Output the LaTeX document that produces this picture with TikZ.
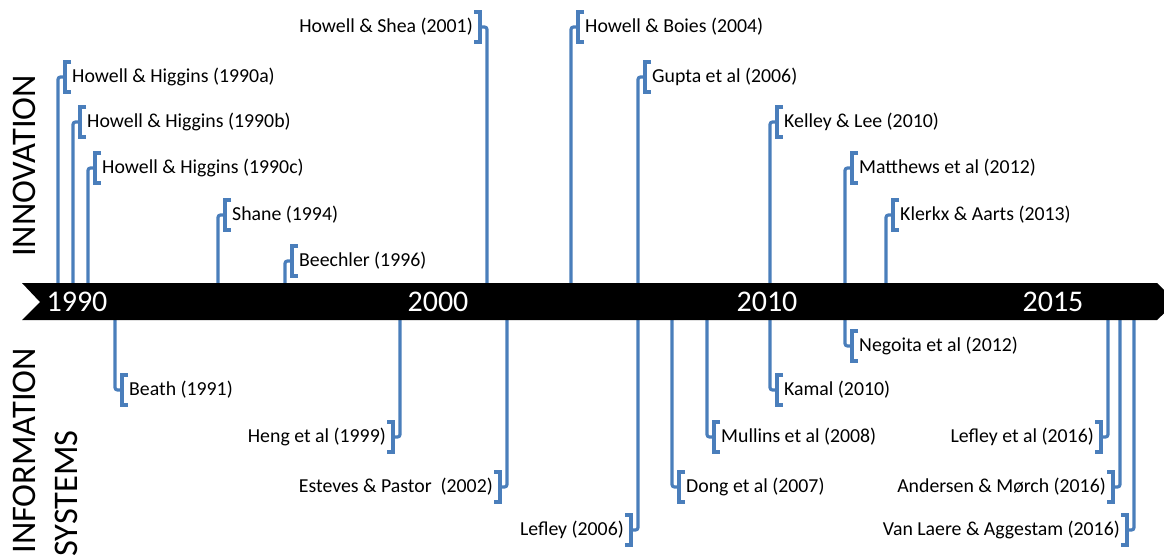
\documentclass[tikz,border=0pt]{standalone}
\usepackage{fontspec}
\setmainfont{Carlito}
\definecolor{lineblue}{HTML}{4A7EBB}
\tikzset{
  lab/.style={inner sep=0pt, font=\fontsize{19.8}{22}\selectfont, text=black},
  conn/.style={draw=lineblue, line width=3.2pt},
  brk/.style={draw=lineblue, line width=3.2pt, line join=miter},
  yearlab/.style={inner sep=0pt, font=\fontsize{30}{32}\selectfont, text=white},
  sidelab/.style={inner sep=0pt, rotate=90, font=\fontsize{34.5}{36}\selectfont, anchor=east}
}
% left-bracket item: name, stem x, label y, text
\newcommand\litem[4]{%
  \coordinate (#1s) at (#2,302);
  \node[lab, anchor=west] (#1) at (#2+14,#3) {#4};
  \draw[conn, rounded corners=2.5pt] (#1s) -- (#2,#3) -- (#2+7,#3);
  \draw[brk] (#2+13,#3-15) -- (#2+7,#3-15) -- (#2+7,#3+15) -- (#2+13,#3+15);
}
% right-bracket item
\newcommand\ritem[4]{%
  \coordinate (#1s) at (#2,302);
  \node[lab, anchor=east] (#1) at (#2-14,#3) {#4};
  \draw[conn, rounded corners=2.5pt] (#1s) -- (#2,#3) -- (#2-7,#3);
  \draw[brk] (#2-13,#3-15) -- (#2-7,#3-15) -- (#2-7,#3+15) -- (#2-13,#3+15);
}
\begin{document}
\begin{tikzpicture}[x=1pt, y=-1pt]
\useasboundingbox (0,0) rectangle (1164,556);
\fill[white] (0,0) rectangle (1164,556);

% innovation (top)
\litem{hh90a}{58}{77}{Howell \& Higgins (1990a)}
\litem{hh90b}{73}{122}{Howell \& Higgins (1990b)}
\litem{hh90c}{88}{168}{Howell \& Higgins (1990c)}
\litem{shane}{218}{215}{Shane (1994)}
\litem{beech}{285}{261}{Beechler (1996)}
\ritem{hshea}{487}{27}{Howell \& Shea (2001)}
\litem{hboies}{571}{27}{Howell \& Boies (2004)}
\litem{gupta}{638}{77}{Gupta et al (2006)}
\litem{kelley}{770}{122}{Kelley \& Lee (2010)}
\litem{matth}{845}{168}{Matthews et al (2012)}
\litem{klerkx}{886}{215}{Klerkx \& Aarts (2013)}

% information systems (bottom)
\litem{beath}{115}{390}{Beath (1991)}
\ritem{heng}{400}{437}{Heng et al (1999)}
\ritem{esteves}{507}{487}{Esteves \& Pastor\ \ (2002)}
\ritem{lefley}{638}{530}{Lefley (2006)}
\litem{dong}{672}{487}{Dong et al (2007)}
\litem{mullins}{707}{437}{Mullins et al (2008)}
\litem{kamal}{770}{390}{Kamal (2010)}
\litem{negoita}{845}{346}{Negoita et al (2012)}
\ritem{lefley16}{1108}{437}{Lefley et al (2016)}
\ritem{andersen}{1120}{487}{Andersen \& Mørch (2016)}
\ritem{vanlaere}{1134}{530}{Van Laere \& Aggestam (2016)}

% timeline band
\fill[black] (22,283) -- (1157,283) -- (1176,302) -- (1157,320) -- (22,320) -- (40,302) -- cycle;
\node[yearlab] (y1990) at (77,302) {1990};
\node[yearlab] (y2000) at (438,302) {2000};
\node[yearlab] (y2010) at (767,302) {2010};
\node[yearlab] (y2015) at (1053,302) {2015};

% side labels
\node[sidelab] (innov) at (24,75) {INNOVATION};
\node[sidelab] (info) at (24,348) {INFORMATION};
\node[sidelab] (sys) at (66,430) {SYSTEMS};
\end{tikzpicture}
\end{document}
